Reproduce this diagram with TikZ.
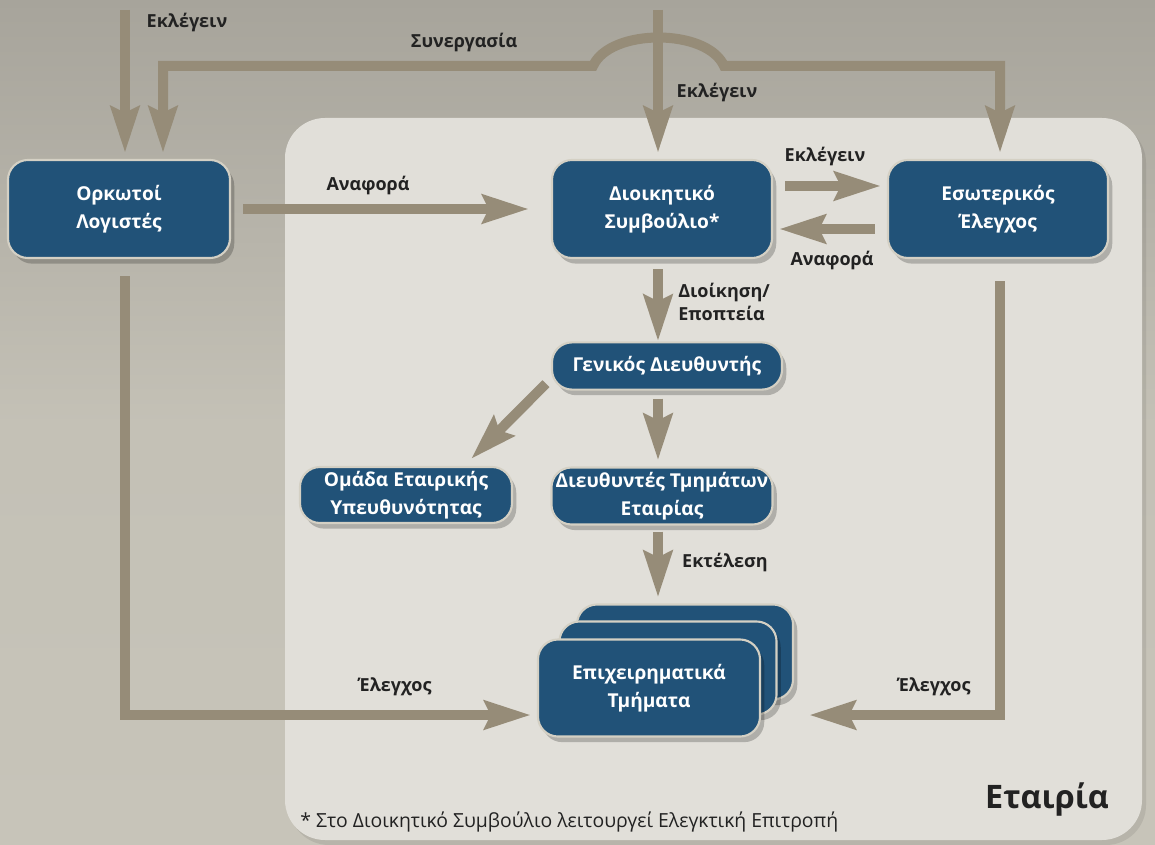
\documentclass[tikz,border=0pt]{standalone}
\usepackage{fontspec}
\setmainfont{Open Sans}
\usetikzlibrary{arrows.meta,positioning,shadows}

\definecolor{boxblue}{HTML}{215278}
\definecolor{boxrim}{HTML}{D4D0C4}
\definecolor{flowgray}{HTML}{968C78}
\definecolor{panelgray}{HTML}{E1DFD9}
\definecolor{bgtop}{HTML}{A7A49B}
\definecolor{bgbot}{HTML}{C7C4B9}
\definecolor{labelink}{HTML}{222222}

\tikzset{
  unit/.style={draw=boxrim, line width=1.5pt, fill=boxblue, rounded corners=0.5cm,
    text=white, align=center, inner sep=0pt,
    font=\bfseries\fontsize{13.6}{19.5}\selectfont,
    drop shadow={opacity=0.22, shadow xshift=3pt, shadow yshift=-4pt, fill=black}},
  flow/.style={draw=flowgray, line width=0.25cm,
    -{Stealth[length=1.15cm, width=0.7cm, inset=0.15cm]},
    shorten >=0.15cm, shorten <=0.3cm},
  lbl/.style={text=labelink, align=left, inner sep=0pt,
    font=\bfseries\fontsize{12.8}{16}\selectfont}
}

\begin{document}
\begin{tikzpicture}[x=0.025cm, y=-0.025cm]
  \useasboundingbox (0,0) rectangle (1155,845);
  \shade[top color=bgtop, bottom color=bgbot, middle color=bgbot!90!bgtop] (0,0) rectangle (1155,845);
  % company panel
  \fill[black, opacity=0.08, rounded corners=1cm] (289,123) rectangle (1146,845);
  \fill[panelgray, rounded corners=1cm] (285,118) rectangle (1142,840);

  % boxes
  \node[unit, minimum width=5.55cm, minimum height=2.45cm] (orkotoi) at (119,209) {Ορκωτοί\\Λογιστές};
  \node[unit, minimum width=5.5cm, minimum height=2.45cm] (dioikitiko) at (662,209) {Διοικητικό\\Συμβούλιο*};
  \node[unit, minimum width=5.5cm, minimum height=2.45cm] (esoteriko) at (998,209) {Εσωτερικός\\Έλεγχος};
  \node[unit, minimum width=5.75cm, minimum height=1.18cm] (genikos) at (667,366) {Γενικός Διευθυντής};
  \node[unit, minimum width=5.3cm, minimum height=1.4cm] (omada) at (406,495) {Ομάδα Εταιρικής\\Υπευθυνότητας};
  \node[unit, minimum width=5.525cm, minimum height=1.425cm] (diefthyntes) at (662,496) {Διευθυντές Τμημάτων\\Εταιρίας};
  \node[unit, minimum width=5.4cm, minimum height=2.375cm] (epixback) at (685,652) {};
  \node[unit, minimum width=5.425cm, minimum height=2.325cm] (epixmid) at (668,668) {};
  \node[unit, minimum width=5.55cm, minimum height=2.425cm] (epix) at (649,688) {Επιχειρηματικά\\Τμήματα};

  % free ends and bends
  \coordinate (electL) at (125,10);
  \coordinate (electC) at (658,10);
  \coordinate (coopL) at (163,66);
  \coordinate (coopR) at (1000,66);
  \coordinate (humpL) at (593,66);
  \coordinate (humpR) at (724,66);

  % connectors
  \draw[flow, shorten <=0pt] (electL) -- (orkotoi.north -| electL);
  \draw[flow, shorten <=0pt] (electC) -- (dioikitiko.north -| electC);
  \draw[flow, shorten <=0pt, {Stealth[length=1.15cm, width=0.7cm, inset=0.15cm]}-{Stealth[length=1.15cm, width=0.7cm, inset=0.15cm]}, shorten <=0.15cm]
    (orkotoi.north -| coopL) -- (coopL) -- (humpL) .. controls (610,28) and (707,28) .. (humpR) -- (coopR) -- (esoteriko.north -| coopR);
  \draw[flow, shorten >=0.55cm] (orkotoi.east) -- (dioikitiko.west);
  \draw[flow] ([yshift=0.575cm]dioikitiko.east) -- ([yshift=0.575cm]esoteriko.west);
  \draw[flow] ([yshift=-0.5cm]esoteriko.west) -- ([yshift=-0.5cm]dioikitiko.east);
  \draw[flow, shorten >=0pt, shorten <=0.25cm] (dioikitiko.south -| electC) -- (genikos.north -| electC);
  \draw[flow, shorten <=0pt, shorten >=0pt] ([xshift=-0.125cm,yshift=0.175cm]genikos.south west) -- ([xshift=-1.05cm,yshift=0.175cm]omada.north east);
  \draw[flow, shorten <=0.2cm] (genikos.south -| electC) -- (diefthyntes.north -| electC);
  \draw[flow, shorten <=0.15cm] (diefthyntes.south -| electC) -- (epixback.north -| electC);
  \draw[flow, shorten <=0.425cm] (orkotoi.south -| electL) |- ([yshift=-0.675cm]epix.west);
  \draw[flow, shorten <=0.55cm, shorten >=0.375cm] (esoteriko.south -| coopR) |- ([yshift=-0.675cm]epix.east -| epixback.east);

  % labels
  \node[lbl] (lblElectL) at (187,23) {Εκλέγειν};
  \node[lbl] (lblCoop) at (464,43) {Συνεργασία};
  \node[lbl] (lblElectC) at (717,93) {Εκλέγειν};
  \node[lbl] (lblReportL) at (368,186) {Αναφορά};
  \node[lbl] (lblElectR) at (825,157) {Εκλέγειν};
  \node[lbl] (lblReportR) at (832,261) {Αναφορά};
  \node[lbl, anchor=west] (lblManage) at (678,302) {Διοίκηση/\\Εποπτεία};
  \node[lbl] (lblExec) at (725,562) {Εκτέλεση};
  \node[lbl] (lblAuditL) at (395,687) {Έλεγχος};
  \node[lbl] (lblAuditR) at (934,687) {Έλεγχος};

  \node[text=labelink, font=\bfseries\fontsize{23}{28}\selectfont, inner sep=0pt] (company) at (1047,800) {Εταιρία};
  \node[text=labelink, font=\fontsize{13.8}{16}\selectfont, anchor=west, inner sep=0pt] (footnote) at (300,822) {* Στο Διοικητικό Συμβούλιο λειτουργεί Ελεγκτική Επιτροπή};
\end{tikzpicture}
\end{document}
